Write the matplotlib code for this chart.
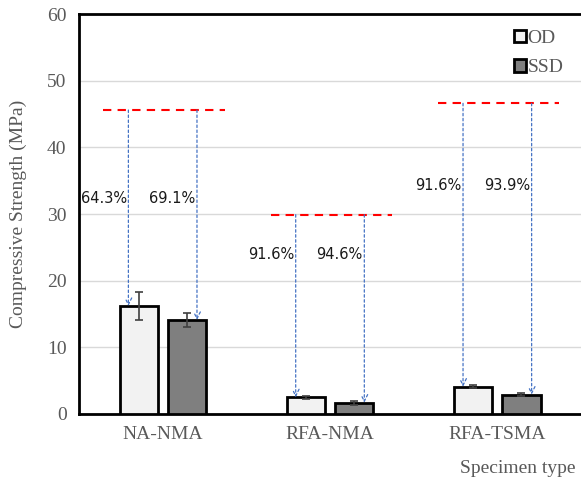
import numpy as np
import matplotlib.pyplot as plt

# data
categories = ['NA-NMA', 'RFA-NMA', 'RFA-TSMA']
od_strength = [16.2, 2.5, 4.1]
ssd_strength = [14.1, 1.7, 2.9]
od_err = [2.1, 0.2, 0.25]
ssd_err = [1.0, 0.3, 0.2]
reference_strength = [45.6, 29.9, 46.6]
od_reduction = ['64.3%', '91.6%', '91.6%']
ssd_reduction = ['69.1%', '94.6%', '93.9%']
label_heights = [32.4, 24.0, 34.3]

serif = 'Liberation Serif'
grey_text = '#595959'
fs = 14

fig = plt.figure(figsize=(5.81, 4.79), dpi=100)
ax = fig.add_axes([0.136, 0.1357, 0.864, 0.835])

x = np.arange(len(categories))
width = 0.228
offset = 0.144

ax.bar(x - offset, od_strength, width, yerr=od_err, color='#f2f2f2',
       edgecolor='black', linewidth=2, label='OD', zorder=3,
       error_kw=dict(ecolor='#404040', elinewidth=1.2, capsize=3, capthick=1.2))
ax.bar(x + offset, ssd_strength, width, yerr=ssd_err, color='#7f7f7f',
       edgecolor='black', linewidth=2, label='SSD', zorder=3,
       error_kw=dict(ecolor='#404040', elinewidth=1.2, capsize=3, capthick=1.2))

arrow_dx = 0.205
for i in range(len(categories)):
    ref = reference_strength[i]
    ax.plot([x[i] - 0.355, x[i] + 0.37], [ref, ref], color='#ff0000',
            linestyle=(0, (4, 3)), linewidth=1.5, zorder=4)
    for sign, top, txt in [(-1, od_strength[i], od_reduction[i]),
                           (1, ssd_strength[i], ssd_reduction[i])]:
        xa = x[i] + sign * arrow_dx
        ax.annotate('', xy=(xa, top), xytext=(xa, ref),
                    arrowprops=dict(arrowstyle='->', color='#4472c4',
                                    linestyle=(0, (2, 2)), linewidth=0.9,
                                    shrinkA=0, shrinkB=0, mutation_scale=12),
                    zorder=5)
        ax.text(xa - 0.01, label_heights[i], txt, ha='right', va='center',
                fontsize=10.5, color='#1a1a1a', family='DejaVu Sans')

ax.set_xlim(-0.5, 2.5)
ax.set_ylim(0, 60)
ax.set_yticks(np.arange(0, 61, 10))
ax.set_xticks(x)
ax.set_xticklabels(categories)
ax.yaxis.grid(True, color='#d9d9d9', linewidth=1)
ax.set_axisbelow(True)

for lbl in ax.get_xticklabels() + ax.get_yticklabels():
    lbl.set_family(serif)
    lbl.set_fontsize(fs)
    lbl.set_color(grey_text)
ax.tick_params(axis='both', length=0)
ax.tick_params(axis='x', pad=9)
ax.tick_params(axis='y', pad=9)

for side in ['left', 'bottom', 'top']:
    ax.spines[side].set_linewidth(2)
    ax.spines[side].set_color('black')
ax.spines['right'].set_visible(False)

ax.set_ylabel('Compressive Strength (MPa)', family=serif, fontsize=fs,
              color=grey_text, labelpad=14)
fig.text(0.99, 0.005, 'Specimen type', ha='right', va='bottom', family=serif,
         fontsize=fs, color=grey_text)

leg = ax.legend(loc='upper right', bbox_to_anchor=(1.0, 1.005), frameon=False,
                prop=dict(family=serif, size=fs), handlelength=0.6,
                handleheight=0.6, handletextpad=0.1, labelspacing=0.65)
for t in leg.get_texts():
    t.set_color(grey_text)

fig.savefig('out.png', dpi=100)
